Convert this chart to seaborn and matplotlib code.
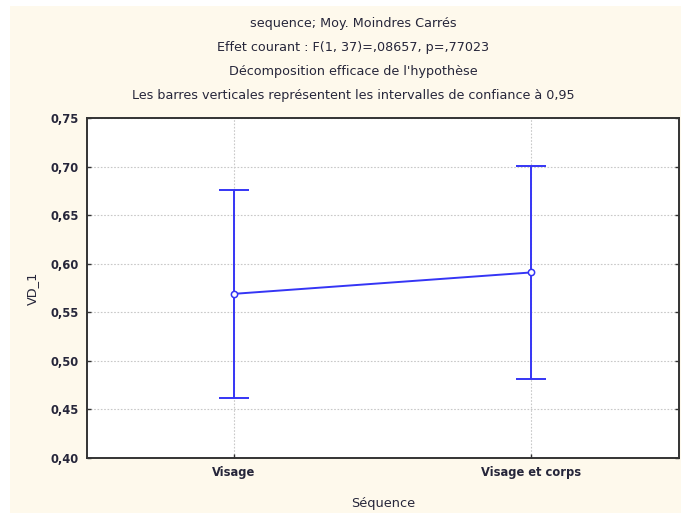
import numpy as np
import matplotlib
matplotlib.use('Agg')
import matplotlib.pyplot as plt
import pandas as pd
import seaborn as sns

# values
categories = ['Visage', 'Visage et corps']
means = [0.569, 0.591]
ci_low = [0.462, 0.481]
ci_high = [0.676, 0.701]

title_lines = ['sequence; Moy. Moindres Carrés',
               'Effet courant : F(1, 37)=,08657, p=,77023',
               "Décomposition efficace de l'hypothèse",
               'Les barres verticales représentent les intervalles de confiance à 0,95']
y_ticks = [0.40, 0.45, 0.50, 0.55, 0.60, 0.65, 0.70, 0.75]

sns.set_style('white')
plt.rcParams['font.family'] = ['DejaVu Sans']

cream = '#fef9ec'
blue = '#3535f5'
text_col = '#26263a'

df = pd.DataFrame({'sequence': categories, 'VD_1': means})

fig = plt.figure(figsize=(6.81, 5.13), dpi=100)
fig.patch.set_facecolor('white')
fig.patches.append(plt.Rectangle((10 / 681, 0), 1 - 10 / 681, 1 - 6 / 513,
                                 transform=fig.transFigure, facecolor=cream,
                                 edgecolor='none', zorder=-10))

ax = fig.add_axes([87 / 681, 55 / 513, 592 / 681, 340 / 513])
ax.set_facecolor('white')

# confidence intervals
x_pos = np.arange(len(categories))
yerr = np.array([np.array(means) - np.array(ci_low), np.array(ci_high) - np.array(means)])
ax.errorbar(x_pos, means, yerr=yerr, fmt='none', ecolor=blue, elinewidth=1.4,
            capsize=10.8, capthick=1.4, zorder=3)

# means
sns.pointplot(data=df, x='sequence', y='VD_1', errorbar=None, color=blue,
              markers='o', linewidth=1.4, markersize=4.5, ax=ax, zorder=4)
for ln in ax.lines:
    if ln.get_marker() == 'o':
        ln.set_markerfacecolor('white')
        ln.set_markeredgecolor(blue)
        ln.set_markeredgewidth(1.1)

ax.set_xlim(-0.495, 1.498)
ax.set_ylim(0.40, 0.75)
ax.set_yticks(y_ticks)
ax.set_yticklabels([('%.2f' % v).replace('.', ',') for v in y_ticks])
ax.grid(True, color='#c8c8c8', linestyle=(0, (1.5, 1.5)), linewidth=0.8)
ax.set_axisbelow(True)

ax.tick_params(axis='both', which='both', direction='in', length=3, width=1,
               color='#333333', labelsize=8.3, labelcolor=text_col, pad=6)
ax.tick_params(axis='y', right=True, left=True)
ax.tick_params(axis='x', bottom=True, top=False, pad=6)
for lab in ax.get_xticklabels() + ax.get_yticklabels():
    lab.set_fontweight('bold')
for side in ax.spines.values():
    side.set_visible(True)
    side.set_color('#333333')
    side.set_linewidth(1.4)

ax.set_xlabel('Séquence', fontsize=9.3, color=text_col, labelpad=13)
ax.set_ylabel('VD_1', fontsize=9.3, color=text_col, labelpad=8)

for i, line in enumerate(title_lines):
    fig.text(353 / 681, 1 - (24 + i * 24) / 513, line, ha='center', va='center',
             fontsize=9.2, color=text_col)

fig.savefig('out.png', dpi=100, facecolor=fig.get_facecolor())
